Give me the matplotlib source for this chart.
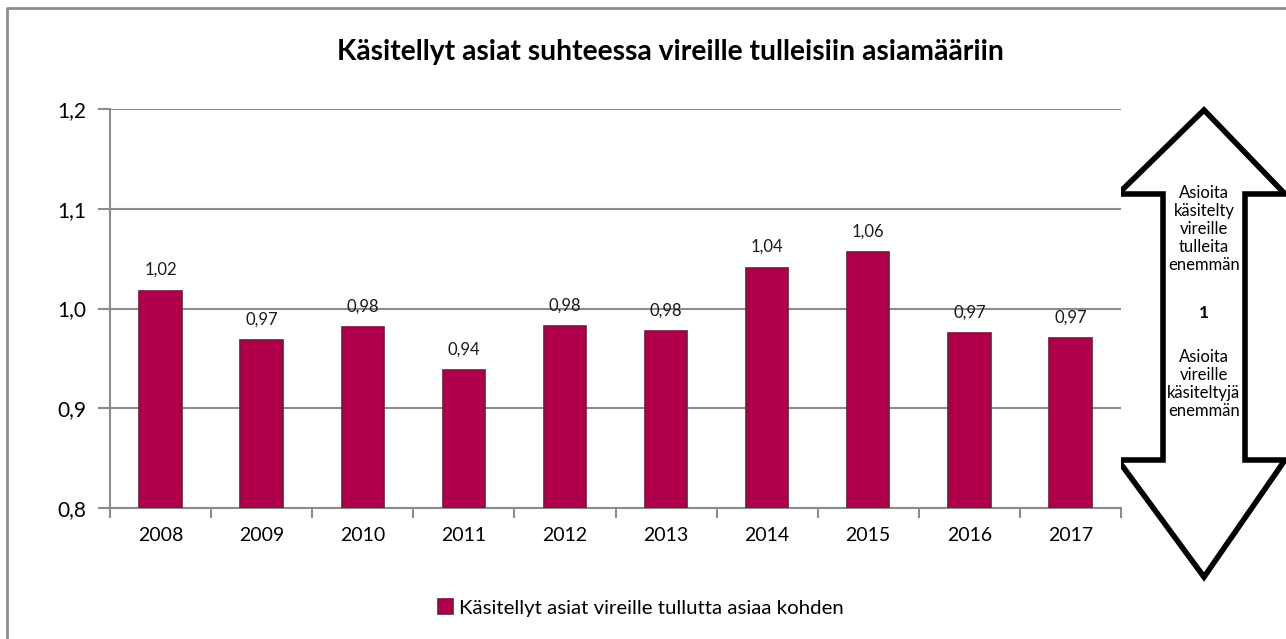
import matplotlib.pyplot as plt
from matplotlib.patches import Polygon
from matplotlib.lines import Line2D

years = ['2008', '2009', '2010', '2011', '2012', '2013', '2014', '2015', '2016', '2017']
ratio = [1.018, 0.968, 0.981, 0.938, 0.982, 0.977, 1.041, 1.057, 0.975, 0.970]
labels = ['1,02', '0,97', '0,98', '0,94', '0,98', '0,98', '1,04', '1,06', '0,97', '0,97']
yticks = [0.8, 0.9, 1.0, 1.1, 1.2]
ytick_labels = ['0,8', '0,9', '1,0', '1,1', '1,2']

title = 'Käsitellyt asiat suhteessa vireille tulleisiin asiamääriin'
legend_label = 'Käsitellyt asiat vireille tullutta asiaa kohden'

plt.rcParams['font.family'] = ['Lato', 'DejaVu Sans']
bar_color = '#B0004B'
edge_color = '#6E1B3A'
grid_color = '#8C8C8C'

fig = plt.figure(figsize=(12.86, 6.39), dpi=100)

# overlay in pixel coordinates for border and arrow
over = fig.add_axes([0, 0, 1, 1])
over.set_xlim(0, 1286)
over.set_ylim(639, 0)
over.axis('off')
over.add_line(Line2D([7, 7, 1290], [645, 8, 8], color='#8C8C8C', lw=2))

ax = fig.add_axes([110 / 1286, 1 - 508 / 639, 1011 / 1286, 399 / 639])
x = list(range(len(years)))
bars = ax.bar(x, [v - 0.8 for v in ratio], bottom=0.8, width=0.42,
              color=bar_color, edgecolor=edge_color, linewidth=1.2, zorder=3,
              label=legend_label)
for xi, v, lab in zip(x, ratio, labels):
    ax.annotate(lab, (xi, v), xytext=(0, 9), textcoords='offset points',
                ha='center', va='bottom', fontsize=12, color='#1a1a1a', zorder=4)

ax.set_xlim(-0.5, len(years) - 0.5)
ax.set_ylim(0.8, 1.2)
ax.set_yticks(yticks)
ax.set_yticklabels(ytick_labels, fontsize=15)
ax.set_xticks(x)
ax.set_xticklabels(years, fontsize=14)
ax.set_xticks([i - 0.5 for i in range(len(years) + 1)], minor=True)
ax.tick_params(axis='x', which='major', length=0, pad=14)
ax.tick_params(axis='x', which='minor', length=7, color=grid_color, width=1.5)
ax.tick_params(axis='y', length=9, color=grid_color, width=1.5, pad=8)
ax.yaxis.grid(True, color=grid_color, linewidth=1.5, zorder=0)
for side in ['top', 'right']:
    ax.spines[side].set_visible(False)
for side in ['left', 'bottom']:
    ax.spines[side].set_color(grid_color)
    ax.spines[side].set_linewidth(1.5)

fig.text(670 / 1286, 1 - 52 / 639, title, ha='center', va='center',
         fontsize=20.3, fontweight='bold')

fig.legend(handles=[bars], labels=[legend_label], loc='center',
           bbox_to_anchor=(641 / 1286, 1 - 608 / 639), frameon=False,
           fontsize=14.7, handlelength=0.75, handleheight=0.75, handletextpad=0.3)

# double-headed arrow
arrow = Polygon([(1204, 110), (1285, 194), (1245, 194), (1245, 460), (1285, 460),
                 (1204, 577), (1118, 460), (1163, 460), (1163, 194), (1118, 194)],
                closed=True, facecolor='white', edgecolor='black', lw=4, joinstyle='miter')
over.add_patch(arrow)
over.text(1204, 229, 'Asioita\nkäsitelty\nvireille\ntulleita\nenemmän', ha='center',
          va='center', fontsize=12, linespacing=1.15)
over.text(1204, 313, '1', ha='center', va='center', fontsize=12.5, fontweight='bold')
over.text(1204, 384, 'Asioita\nvireille\nkäsiteltyjä\nenemmän', ha='center',
          va='center', fontsize=12, linespacing=1.15)

fig.savefig('out.png', dpi=100)
